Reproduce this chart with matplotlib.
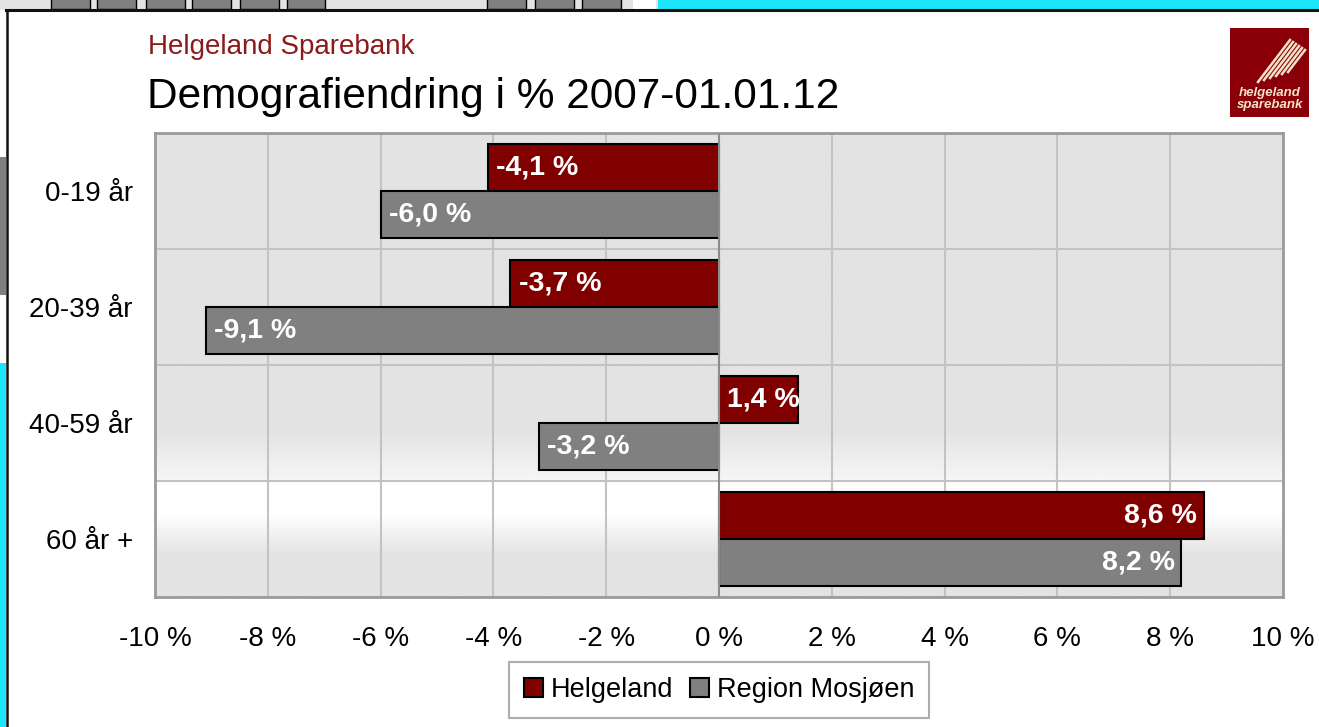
import numpy as np
import matplotlib
matplotlib.use("Agg")
import matplotlib.pyplot as plt
from matplotlib.patches import Rectangle
from matplotlib.lines import Line2D

plt.rcParams['font.family'] = ['Liberation Sans', 'DejaVu Sans']

categories = ['0-19 år', '20-39 år', '40-59 år', '60 år +']
helgeland = [-4.1, -3.7, 1.4, 8.6]
region = [-6.0, -9.1, -3.2, 8.2]
series_names = ['Helgeland', 'Region Mosjøen']
xticks = [-10, -8, -6, -4, -2, 0, 2, 4, 6, 8, 10]

W, H = 1319, 727
fig = plt.figure(figsize=(W / 100, H / 100), dpi=100)


def px(x, y, w, h, z=-5, **kw):
    # rectangle in pixel coords (top-left origin)
    fig.patches.append(Rectangle((x / W, 1 - (y + h) / H), w / W, h / H,
                                 transform=fig.transFigure, zorder=z, **kw))


# screenshot surroundings
px(0, 0, W, 10, facecolor='#e3e3e3', edgecolor='none')
for x0, x1 in [(51, 90), (97, 136), (146, 185), (192, 231), (240, 279),
               (287, 325), (487, 526), (535, 574), (582, 621)]:
    px(x0, -2, x1 - x0, 11, facecolor='#808080', edgecolor='black', linewidth=1)
px(633, 0, 23, 9, facecolor='white', edgecolor='none')
px(658, 0, W - 658, 9, facecolor='#1ae6fd', edgecolor='none')
px(0, 10, 6, H - 10, facecolor='white', edgecolor='none')
px(0, 157, 6, 138, facecolor='#808080', edgecolor='none')
px(0, 363, 6, H - 363, facecolor='#1ae6fd', edgecolor='none')
px(6, 10, W - 6, H - 10, facecolor='white', edgecolor='none')
fig.lines.append(Line2D([5.5 / W, 1], [1 - 9.5 / H, 1 - 9.5 / H], color='#111111',
                        linewidth=2.2, transform=fig.transFigure, zorder=-4))
fig.lines.append(Line2D([6.5 / W, 6.5 / W], [0, 1 - 9.5 / H], color='#111111',
                        linewidth=1.8, transform=fig.transFigure, zorder=-4))

# logo
px(1230, 28, 79, 89, z=2, facecolor='#8b0008', edgecolor='none')
for k in range(6):
    xa, ya = 1258 + k * 6, 82 - k * 2
    fig.lines.append(Line2D([xa / W, (xa + 32 - k * 3) / W],
                            [1 - ya / H, 1 - (ya - 42 + k * 4) / H],
                            color='#f3e3c8', linewidth=1.8, transform=fig.transFigure,
                            zorder=3))
fig.text(1270 / W, 1 - 93 / H, 'helgeland', color='#f3e3c8', fontsize=9.5,
         style='italic', fontweight='bold', ha='center', va='center')
fig.text(1270 / W, 1 - 105 / H, 'sparebank', color='#f3e3c8', fontsize=9.5,
         style='italic', fontweight='bold', ha='center', va='center')

fig.text(148 / W, 1 - 47 / H, 'Helgeland Sparebank', color='#8b1a1a',
         fontsize=20, ha='left', va='center')
fig.text(147 / W, 1 - 97 / H, 'Demografiendring i % 2007-01.01.12', color='black',
         fontsize=30.5, ha='left', va='center')

ax = fig.add_axes([155 / W, 1 - 597 / H, 1128 / W, 464 / H])

# background gradient (row 0 = top of plot area)
yy = np.linspace(0, 1, 400)
shade = np.interp(yy, [0, 0.64, 0.745, 0.75, 0.82, 0.91, 1],
                  [0.89, 0.89, 0.96, 1.0, 1.0, 0.89, 0.89])
img = np.repeat(shade[:, None], 2, axis=1)
ax.imshow(img, cmap='gray', vmin=0, vmax=1, aspect='auto',
          extent=[0, 1, 0, 1], transform=ax.transAxes, zorder=0)
ax.set_xlim(-10, 10)
ax.set_ylim(len(categories) - 0.5, -0.5)

for t in xticks:
    if t not in (-10, 10, 0):
        ax.axvline(t, color='#c3c3c3', linewidth=1.5, zorder=1)
for b in np.arange(0.5, len(categories) - 0.5, 1):
    ax.axhline(b, color='#c3c3c3', linewidth=1.5, zorder=1)

pos = np.arange(len(categories))
h = 0.405
ax.barh(pos - h / 2, helgeland, height=h, color='#800000', edgecolor='black',
        linewidth=1.5, label=series_names[0], zorder=2)
ax.barh(pos + h / 2, region, height=h, color='#808080', edgecolor='black',
        linewidth=1.5, label=series_names[1], zorder=2)
ax.axvline(0, color='#8c8c8c', linewidth=1.5, zorder=3)

for vals, off in [(helgeland, -h / 2), (region, h / 2)]:
    for i, v in enumerate(vals):
        txt = ('%.1f %%' % v).replace('.', ',')
        if v < 0:
            ax.annotate(txt, (v, i + off), xytext=(6, 0), textcoords='offset points',
                        ha='left', va='center', color='white', fontsize=20.5,
                        fontweight='bold', zorder=4)
        elif v < 2:
            ax.annotate(txt, (0, i + off), xytext=(6, 0), textcoords='offset points',
                        ha='left', va='center', color='white', fontsize=20.5,
                        fontweight='bold', zorder=4)
        else:
            ax.annotate(txt, (v, i + off), xytext=(-5, 0), textcoords='offset points',
                        ha='right', va='center', color='white', fontsize=20.5,
                        fontweight='bold', zorder=4)

ax.set_xticks(xticks)
ax.set_xticklabels(['%d %%' % t for t in xticks])
ax.set_yticks(pos)
ax.set_yticklabels(categories)
ax.tick_params(axis='both', length=0, labelsize=20)
ax.tick_params(axis='x', pad=21)
ax.tick_params(axis='y', pad=16)
for s in ax.spines.values():
    s.set_color('#9a9a9a')
    s.set_linewidth(2)

leg = ax.legend(loc='upper center', bbox_to_anchor=(0.5, -0.14), ncol=2,
                fontsize=19.5, frameon=True, fancybox=False, edgecolor='#999999',
                handlelength=0.7, handleheight=0.7, handletextpad=0.3,
                columnspacing=0.6, borderpad=0.55, borderaxespad=0)
leg.get_frame().set_linewidth(1.5)

fig.savefig('out.png', dpi=100)
